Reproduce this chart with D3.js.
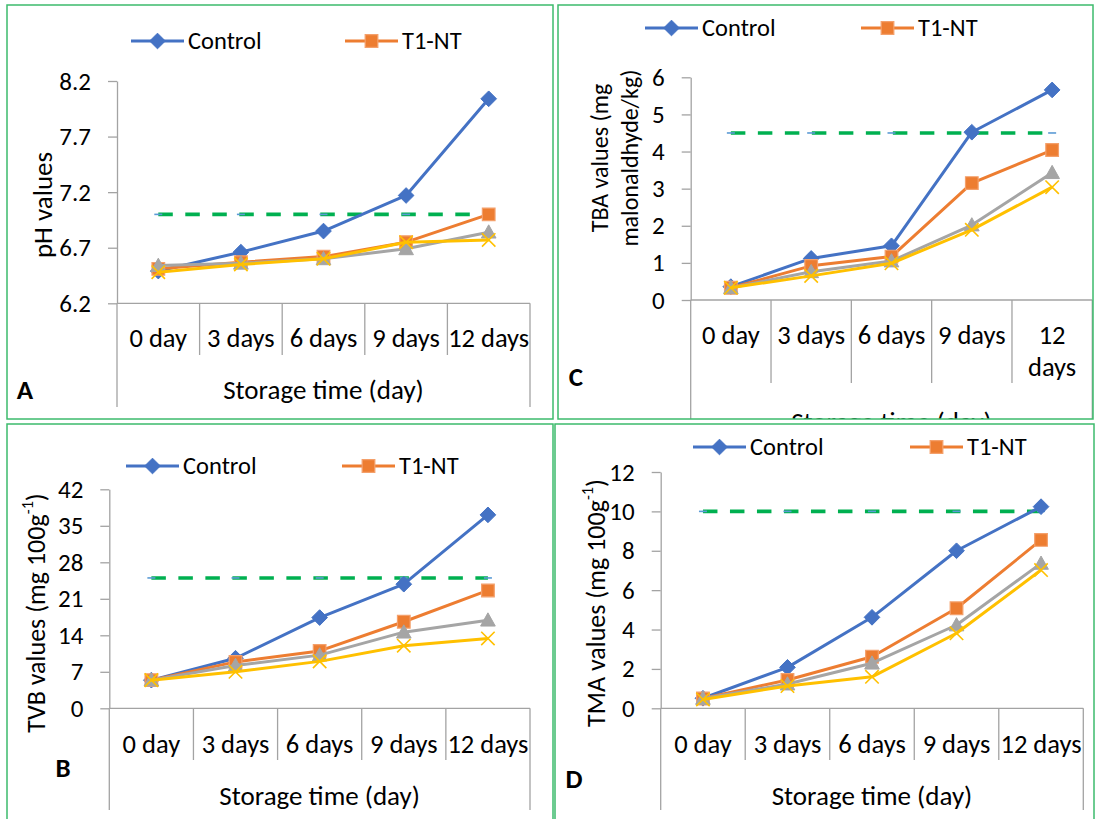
<!DOCTYPE html>
<html><head><meta charset="utf-8">
<script src="https://cdn.jsdelivr.net/npm/d3@7"></script>
<style>
html,body{margin:0;padding:0;background:#fff;}
svg text{font-family: Carlito, Calibri, Lato, sans-serif; fill:#000;}
</style></head><body>
<svg id="chart" width="1095" height="819"></svg>
<script>
// ---------------- DATA ----------------
const categories = ["0 day", "3 days", "6 days", "9 days", "12 days"];
const seriesNames = ["Control", "T1-NT", "T2-NT", "T3-NT"];
const legendNames = ["Control", "T1-NT"];

// A: pH
const phControl = [6.49, 6.66, 6.85, 7.17, 8.04];
const phT1 = [6.51, 6.57, 6.62, 6.75, 7.00];
const phT2 = [6.54, 6.56, 6.60, 6.69, 6.84];
const phT3 = [6.48, 6.55, 6.60, 6.75, 6.77];
const phLimit = 7.0;
const phTicks = [6.2, 6.7, 7.2, 7.7, 8.2];

// C: TBA
const tbaControl = [0.36, 1.12, 1.46, 4.52, 5.66];
const tbaT1 = [0.33, 0.92, 1.17, 3.15, 4.04];
const tbaT2 = [0.33, 0.76, 1.05, 2.02, 3.43];
const tbaT3 = [0.33, 0.65, 0.99, 1.89, 3.04];
const tbaLimit = 4.5;
const tbaTicks = [0, 1, 2, 3, 4, 5, 6];

// B: TVB
const tvbControl = [5.4, 9.6, 17.4, 23.8, 37.1];
const tvbT1 = [5.4, 8.9, 11.0, 16.6, 22.6];
const tvbT2 = [5.4, 8.2, 10.2, 14.6, 16.9];
const tvbT3 = [5.4, 7.0, 9.0, 12.0, 13.4];
const tvbLimit = 25;
const tvbTicks = [0, 7, 14, 21, 28, 35, 42];

// D: TMA
const tmaControl = [0.51, 2.08, 4.62, 8.00, 10.24];
const tmaT1 = [0.50, 1.44, 2.62, 5.08, 8.55];
const tmaT2 = [0.50, 1.23, 2.29, 4.23, 7.36];
const tmaT3 = [0.45, 1.13, 1.60, 3.81, 7.02];
const tmaLimit = 10;
const tmaTicks = [0, 2, 4, 6, 8, 10, 12];

// ---------------- STYLE ----------------
const colors = ["#4472C4", "#ED7D31", "#A5A5A5", "#FFC000"];
const limitColor = "#00B050";
const limitMarkColor = "#5B9BD5";
const axisColor = "#A3A3A3";
const borderColor = "#3DBB6C";
const FONT = "Carlito, Calibri, Lato, sans-serif";
const FS_TICK = 25, FS_CAT = 26.5, FS_AXT = 27, FS_LEG = 24.5, FS_LET = 27;

// custom symbols (Excel style markers)
const symDiamond = { draw(ctx, size) { const r = Math.sqrt(size) * 0.62; ctx.moveTo(0, -r); ctx.lineTo(r, 0); ctx.lineTo(0, r); ctx.lineTo(-r, 0); ctx.closePath(); } };
const symSquare = { draw(ctx, size) { const r = Math.sqrt(size) / 2; ctx.rect(-r, -r, 2 * r, 2 * r); } };
const symTriangle = { draw(ctx, size) { const r = Math.sqrt(size) * 0.62; ctx.moveTo(0, -r); ctx.lineTo(r, r * 0.8); ctx.lineTo(-r, r * 0.8); ctx.closePath(); } };
const symX = { draw(ctx, size) { const r = Math.sqrt(size) * 0.5; ctx.moveTo(-r, -r); ctx.lineTo(r, r); ctx.moveTo(-r, r); ctx.lineTo(r, -r); } };
const markerDefs = [
  { type: symDiamond, size: 160, fill: colors[0], stroke: colors[0], sw: 1 },
  { type: symSquare, size: 160, fill: colors[1], stroke: "#F4A06B", sw: 1.2 },
  { type: symTriangle, size: 140, fill: colors[2], stroke: colors[2], sw: 1 },
  { type: symX, size: 180, fill: "none", stroke: colors[3], sw: 1.6 }
];

// ---------------- PANELS ----------------
const panels = [
  { letter: "A", series: [phControl, phT1, phT2, phT3], limit: phLimit, ticks: phTicks, fmt: d3.format(".1f"),
    border: [7, 5, 546, 414], x0: 117, x1: 530, yTop: 81, yBot: 303.3,
    title: [{ parts: [["pH values"]], x: 42 }], titleY: 205, titleFS: 27,
    legendY: 41, legendX: [131, 345], catY: 338, sepBot: 355, outerBot: 407, axisTitleY: 389,
    letterPos: [25, 389], wrapLast: false },
  { letter: "C", series: [tbaControl, tbaT1, tbaT2, tbaT3], limit: tbaLimit, ticks: tbaTicks, fmt: d3.format("d"),
    border: [558, 5, 535, 414], x0: 690.7, x1: 1092.3, yTop: 77.3, yBot: 300,
    title: [{ parts: [["TBA values (mg"]], x: 599 }, { parts: [["malonaldhyde/kg)"]], x: 629 }], titleY: 158, titleFS: 24,
    legendY: 28, legendX: [645, 861], catY: 335, sepBot: 383, outerBot: 430, axisTitleY: 421,
    letterPos: [576, 376], wrapLast: true },
  { letter: "B", series: [tvbControl, tvbT1, tvbT2, tvbT3], limit: tvbLimit, ticks: tvbTicks, fmt: d3.format("d"),
    border: [7, 424, 546, 400], x0: 109.3, x1: 530, yTop: 489.3, yBot: 708.3,
    title: [{ parts: [["TVB values (mg 100g"], ["-1", "sup"], [")"]], x: 36 }], titleY: 613, titleFS: 26,
    legendY: 466, legendX: [126, 342], catY: 744, sepBot: 760, outerBot: 810, axisTitleY: 795,
    letterPos: [63, 767], wrapLast: false },
  { letter: "D", series: [tmaControl, tmaT1, tmaT2, tmaT3], limit: tmaLimit, ticks: tmaTicks, fmt: d3.format("d"),
    border: [555, 424, 539, 400], x0: 660.7, x1: 1083.3, yTop: 472, yBot: 708.3,
    title: [{ parts: [["TMA values (mg 100g"], ["-1", "sup"], [")"]], x: 596 }], titleY: 603, titleFS: 26,
    legendY: 447, legendX: [693, 910], catY: 744, sepBot: 760, outerBot: 810, axisTitleY: 795,
    letterPos: [574, 778], wrapLast: false }
];

const svg = d3.select("#chart");
const defs = svg.append("defs");

panels.forEach((p, pi) => {
  const [bx, by, bw, bh] = p.border;
  defs.append("clipPath").attr("id", "clip" + pi)
    .append("rect").attr("x", bx).attr("y", by).attr("width", bw).attr("height", bh);

  const root = svg.append("g");
  root.append("rect").attr("x", bx).attr("y", by).attr("width", bw).attr("height", bh)
    .attr("fill", "#fff").attr("stroke", "none");
  const g = root.append("g").attr("clip-path", `url(#clip${pi})`);

  const x = d3.scaleBand().domain(categories).range([p.x0, p.x1]).padding(0);
  const y = d3.scaleLinear().domain([p.ticks[0], p.ticks[p.ticks.length - 1]]).range([p.yBot, p.yTop]);
  const cx = c => x(c) + x.bandwidth() / 2;

  // y axis
  const ya = g.append("g").attr("transform", `translate(${p.x0},0)`)
    .call(d3.axisLeft(y).tickValues(p.ticks).tickFormat(p.fmt).tickSize(9).tickSizeOuter(0).tickPadding(17));
  ya.select(".domain").attr("stroke", axisColor).attr("stroke-width", 1.3);
  ya.selectAll(".tick line").attr("stroke", axisColor).attr("stroke-width", 1.3);
  ya.selectAll(".tick text").attr("font-size", FS_TICK).attr("fill", "#000").style("font-family", FONT);

  // x axis (multi-level category axis)
  const xa = g.append("g");
  xa.append("line").attr("x1", p.x0).attr("x2", p.x1).attr("y1", p.yBot).attr("y2", p.yBot)
    .attr("stroke", axisColor).attr("stroke-width", 1.3);
  const bounds = categories.map(c => x(c)).concat([p.x1]);
  xa.selectAll("line.sep").data(bounds).join("line").attr("class", "sep")
    .attr("x1", d => d).attr("x2", d => d).attr("y1", p.yBot)
    .attr("y2", (d, i) => (i === 0 || i === bounds.length - 1) ? p.outerBot : p.sepBot)
    .attr("stroke", axisColor).attr("stroke-width", 1.3);
  xa.selectAll("text.cat").data(categories).join("text").attr("class", "cat")
    .attr("x", d => cx(d)).attr("y", p.catY).attr("text-anchor", "middle")
    .attr("dominant-baseline", "central").attr("font-size", FS_CAT)
    .each(function (d, i) {
      const t = d3.select(this);
      if (p.wrapLast && i === categories.length - 1) {
        const w = d.split(" ");
        t.append("tspan").attr("x", cx(d)).attr("dy", 0).text(w[0]);
        t.append("tspan").attr("x", cx(d)).attr("dy", 32).text(w[1]);
      } else t.text(d);
    });
  xa.append("text").attr("x", (p.x0 + p.x1) / 2).attr("y", p.axisTitleY)
    .attr("text-anchor", "middle").attr("dominant-baseline", "central")
    .attr("font-size", FS_AXT).text("Storage time (day)");

  // y title
  p.title.forEach(tl => {
    const t = g.append("text")
      .attr("transform", `translate(${tl.x},${p.titleY}) rotate(-90)`)
      .attr("text-anchor", "middle").attr("dominant-baseline", "central")
      .attr("font-size", p.titleFS);
    tl.parts.forEach(pt => {
      const s = t.append("tspan").text(pt[0]);
      if (pt[1] === "sup") s.attr("font-size", p.titleFS * 0.62).attr("baseline-shift", "55%");
    });
  });

  // panel letter
  g.append("text").attr("x", p.letterPos[0]).attr("y", p.letterPos[1])
    .attr("text-anchor", "middle").attr("dominant-baseline", "central")
    .attr("font-size", FS_LET).attr("font-weight", "bold").text(p.letter);

  // limit (dashed) line
  const limitData = categories.map(() => p.limit);
  const line = d3.line().x((d, i) => cx(categories[i])).y(d => y(d));
  g.append("path").datum(limitData).attr("d", line).attr("fill", "none")
    .attr("stroke", limitColor).attr("stroke-width", 3.6).attr("stroke-dasharray", "14.5,12.5");
  g.selectAll("line.lm").data(limitData).join("line").attr("class", "lm")
    .attr("x1", (d, i) => cx(categories[i]) - 4).attr("x2", (d, i) => cx(categories[i]) + 4)
    .attr("y1", d => y(d)).attr("y2", d => y(d))
    .attr("stroke", limitMarkColor).attr("stroke-width", 1.6);

  // series
  p.series.forEach((vals, si) => {
    g.append("path").datum(vals).attr("d", line).attr("fill", "none")
      .attr("stroke", colors[si]).attr("stroke-width", 3).attr("stroke-linejoin", "round");
    const m = markerDefs[si];
    g.selectAll("path.mk" + si).data(vals).join("path").attr("class", "mk" + si)
      .attr("transform", (d, i) => `translate(${cx(categories[i])},${y(d)})`)
      .attr("d", d3.symbol().type(m.type).size(m.size))
      .attr("fill", m.fill).attr("stroke", m.stroke).attr("stroke-width", m.sw);
  });

  // legend
  const lg = g.append("g");
  legendNames.forEach((name, li) => {
    const lx = p.legendX[li];
    const m = markerDefs[li];
    lg.append("line").attr("x1", lx).attr("x2", lx + 53).attr("y1", p.legendY).attr("y2", p.legendY)
      .attr("stroke", colors[li]).attr("stroke-width", 3);
    lg.append("path").attr("transform", `translate(${lx + 26.5},${p.legendY})`)
      .attr("d", d3.symbol().type(m.type).size(m.size))
      .attr("fill", m.fill).attr("stroke", m.stroke).attr("stroke-width", m.sw);
    lg.append("text").attr("x", lx + 57).attr("y", p.legendY).attr("dominant-baseline", "central")
      .attr("font-size", FS_LEG).text(name);
  });

  // border on top
  root.append("rect").attr("x", bx).attr("y", by).attr("width", bw).attr("height", bh)
    .attr("fill", "none").attr("stroke", borderColor).attr("stroke-width", 1.5);
});
</script>
</body></html>
